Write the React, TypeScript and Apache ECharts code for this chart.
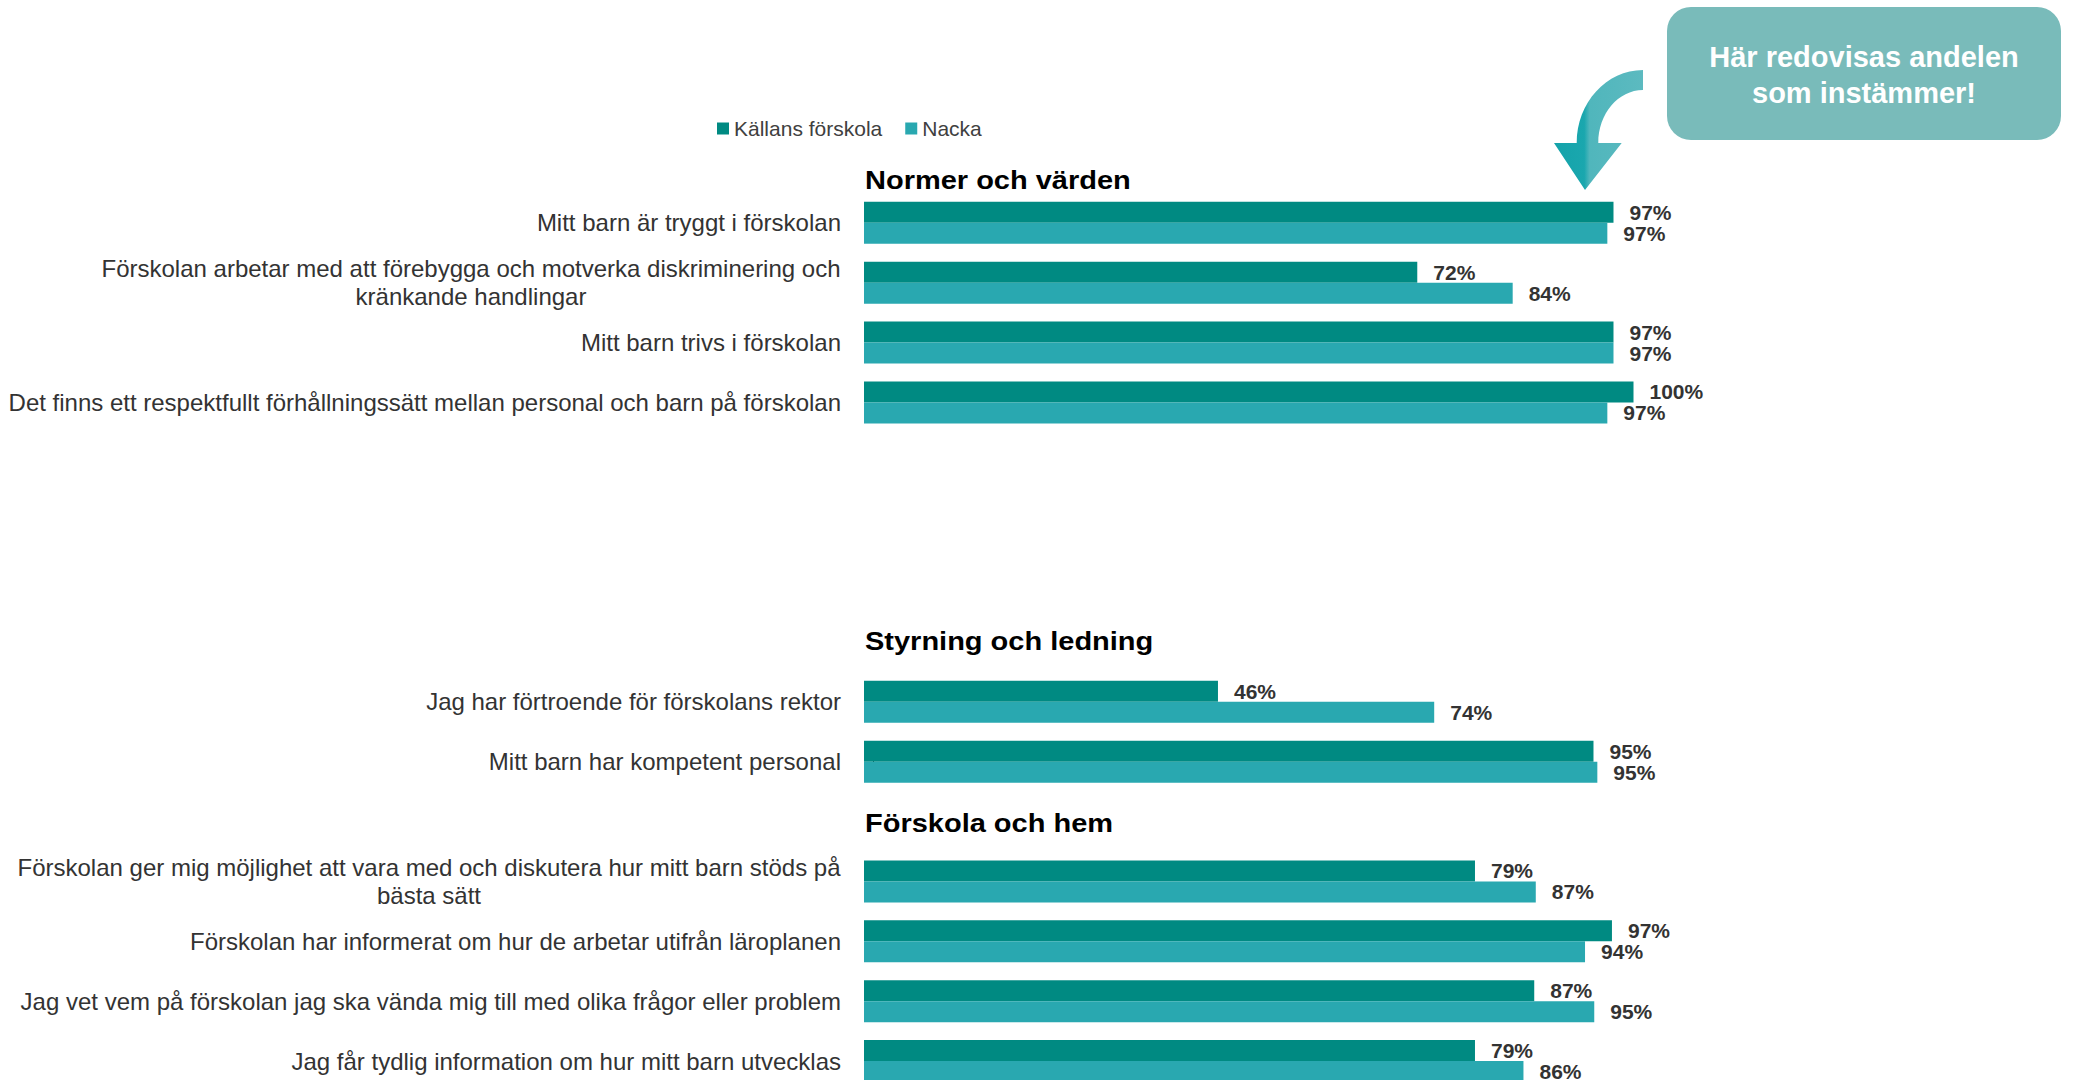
import React, { useEffect, useRef } from 'react';
import * as echarts from 'echarts';

const FONT = '"Liberation Sans", Arial, sans-serif';

const seriesNames = ['Källans förskola', 'Nacka'];
const headers = ['Normer och värden', 'Styrning och ledning', 'Förskola och hem'];
const blankRows = ['tom rad 1', 'tom rad 2', 'tom rad 3'];

const categories = [
  headers[0],
  'Mitt barn är tryggt i förskolan',
  'Förskolan arbetar med att förebygga och motverka diskriminering och\nkränkande handlingar',
  'Mitt barn trivs i förskolan',
  'Det finns ett respektfullt förhållningssätt mellan personal och barn på förskolan',
  blankRows[0],
  blankRows[1],
  blankRows[2],
  headers[1],
  'Jag har förtroende för förskolans rektor',
  'Mitt barn har kompetent personal',
  headers[2],
  'Förskolan ger mig möjlighet att vara med och diskutera hur mitt barn stöds på\nbästa sätt',
  'Förskolan har informerat om hur de arbetar utifrån läroplanen',
  'Jag vet vem på förskolan jag ska vända mig till med olika frågor eller problem',
  'Jag får tydlig information om hur mitt barn utvecklas',
];

const kallans = [null, 97.4, 71.9, 97.4, 100, null, null, null, null, 46.0, 94.8, null, 79.4, 97.2, 87.1, 79.4];
const nacka = [null, 96.6, 84.3, 97.4, 96.6, null, null, null, null, 74.1, 95.3, null, 87.3, 93.7, 94.9, 85.7];

const calloutText = 'Här redovisas andelen\nsom instämmer!';

const ARROW_D =
  'M1643 70 C1606.4 70 1576.7 102.7 1576.7 143 L1554 143 L1585 190 L1621.7 143 L1598.3 143 C1598.3 113.7 1618.3 90 1643 90 Z';

echarts.graphic.registerShape('curvedArrow', echarts.graphic.extendPath(ARROW_D, {}));

function measure(text: string, font: string): number {
  const ctx = document.createElement('canvas').getContext('2d');
  if (!ctx) return text.length * 11;
  ctx.font = font;
  return ctx.measureText(text).width;
}

export default function App() {
  const ref = useRef<HTMLDivElement>(null);

  useEffect(() => {
    if (!ref.current) return;
    const chart = echarts.init(ref.current, undefined, { renderer: 'svg' });

    const wrapped = categories.filter((c) => c.includes('\n'));
    const rich: any = {};
    wrapped.forEach((c, i) => {
      const w = Math.max(...c.split('\n').map((l) => measure(l, `24px ${FONT}`)));
      rich['w' + i] = {
        width: Math.ceil(w),
        align: 'center',
        fontSize: 24,
        lineHeight: 28,
        color: '#333',
        fontFamily: FONT,
      };
    });

    const labelFmt = (p: any) => (p.value == null ? '' : Math.round(p.value) + '%');
    const barLabel = {
      show: true,
      position: 'right',
      distance: 16,
      formatter: labelFmt,
      fontSize: 21,
      fontWeight: 'bold',
      color: '#333',
      fontFamily: FONT,
    };

    chart.setOption({
      animation: false,
      backgroundColor: '#ffffff',
      textStyle: { fontFamily: FONT },
      legend: {
        data: seriesNames,
        left: 717,
        top: 118,
        padding: 0,
        icon: 'rect',
        itemWidth: 12,
        itemHeight: 12,
        itemGap: 23,
        textStyle: { fontSize: 21, color: '#404040', fontFamily: FONT },
      },
      grid: { left: 864, right: 439.5, top: 133, bottom: 0, containLabel: false },
      xAxis: { type: 'value', min: 0, max: 100, show: false },
      yAxis: {
        type: 'category',
        data: categories,
        inverse: true,
        axisLine: { show: false },
        axisTick: { show: false },
        splitLine: { show: false },
        axisLabel: {
          interval: 0,
          margin: 23,
          fontSize: 24,
          lineHeight: 28,
          color: '#333',
          fontFamily: FONT,
          rich,
          formatter: (v: string) => {
            if (headers.includes(v) || blankRows.includes(v)) return '';
            if (v.includes('\n')) {
              const idx = wrapped.indexOf(v);
              return v
                .split('\n')
                .map((l) => `{w${idx}|${l}}`)
                .join('\n');
            }
            return v;
          },
        },
      },
      series: [
        {
          type: 'bar',
          name: seriesNames[0],
          data: kallans,
          barWidth: 21,
          barGap: '0%',
          itemStyle: { color: '#008A82' },
          label: barLabel,
        },
        {
          type: 'bar',
          name: seriesNames[1],
          data: nacka,
          barWidth: 21,
          barGap: '0%',
          itemStyle: { color: '#29A8B0' },
          label: barLabel,
        },
      ],
      graphic: [
        {
          type: 'text',
          x: 865,
          y: 180,
          scaleX: 1.16,
          style: { text: headers[0], fontSize: 25, fontWeight: 'bold', fill: '#000', fontFamily: FONT, align: 'left', verticalAlign: 'middle' },
        },
        {
          type: 'text',
          x: 865,
          y: 641,
          scaleX: 1.16,
          style: { text: headers[1], fontSize: 25, fontWeight: 'bold', fill: '#000', fontFamily: FONT, align: 'left', verticalAlign: 'middle' },
        },
        {
          type: 'text',
          x: 865,
          y: 823,
          scaleX: 1.16,
          style: { text: headers[2], fontSize: 25, fontWeight: 'bold', fill: '#000', fontFamily: FONT, align: 'left', verticalAlign: 'middle' },
        },
        {
          type: 'rect',
          shape: { x: 1667, y: 7, width: 394, height: 133, r: 24 },
          style: { fill: '#79BBBA' },
        },
        {
          type: 'text',
          x: 1864,
          y: 75,
          style: {
            text: calloutText,
            fontSize: 29,
            fontWeight: 'bold',
            lineHeight: 36,
            fill: '#ffffff',
            fontFamily: FONT,
            align: 'center',
            verticalAlign: 'middle',
          },
        },
        {
          type: 'curvedArrow',
          x: 0,
          y: 0,
          style: {
            fill: new echarts.graphic.LinearGradient(0, 0, 1, 0, [
              { offset: 0, color: '#14A3AA' },
              { offset: 0.34, color: '#1AA7AE' },
              { offset: 0.4, color: '#50B6BC' },
              { offset: 1, color: '#5CBAC0' },
            ]),
          },
        },
        {
          type: 'line',
          shape: { x1: 873.5, y1: 755, x2: 873.5, y2: 767 },
          style: { stroke: '#000', lineWidth: 1 },
        },
      ],
    });

    return () => chart.dispose();
  }, []);

  return (
    <div style={{ position: 'absolute', left: 0, top: 0, width: 2073, height: 1080, overflow: 'hidden', background: '#fff' }}>
      <div ref={ref} style={{ width: 2073, height: 1091 }} />
    </div>
  );
}
